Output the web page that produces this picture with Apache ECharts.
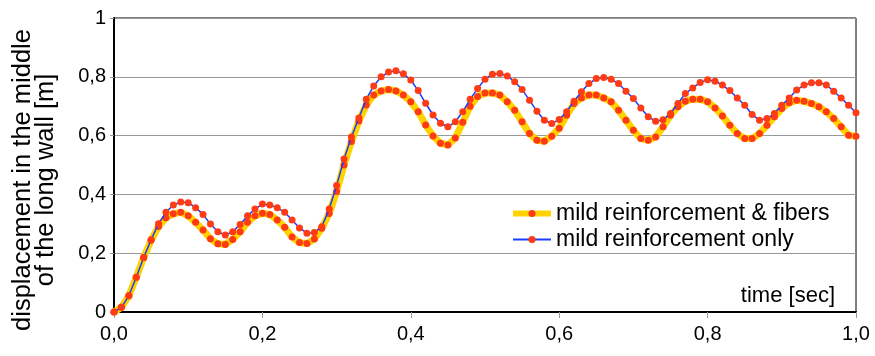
<!DOCTYPE html>
<html>
<head>
<meta charset="utf-8">
<script src="https://cdn.jsdelivr.net/npm/echarts@6/dist/echarts.min.js"></script>
<style>
  html, body { margin: 0; padding: 0; background: #fff; }
  #chart { width: 875px; height: 356px; }
</style>
</head>
<body>
<div id="chart"></div>
<script>
// time samples, every 0.01 s from 0 to 1.0
const timeStep = 0.01;
const times = Array.from({ length: 101 }, (_, i) => +(i * timeStep).toFixed(2));

// displacement [m]
const fibers = [
    0, 0.016, 0.055, 0.118, 0.185, 0.244, 0.291, 0.321, 0.334, 0.339,
    0.327, 0.305, 0.279, 0.249, 0.232, 0.230, 0.247, 0.273, 0.305, 0.327,
    0.336, 0.332, 0.313, 0.288, 0.255, 0.236, 0.233, 0.248, 0.285, 0.335,
    0.410, 0.500, 0.580, 0.650, 0.704, 0.738, 0.752, 0.757, 0.752, 0.738,
    0.715, 0.681, 0.636, 0.599, 0.574, 0.568, 0.592, 0.645, 0.700, 0.733,
    0.745, 0.745, 0.738, 0.715, 0.686, 0.647, 0.607, 0.584, 0.581, 0.598,
    0.625, 0.669, 0.709, 0.728, 0.738, 0.738, 0.728, 0.715, 0.686, 0.652,
    0.618, 0.590, 0.584, 0.595, 0.630, 0.669, 0.698, 0.717, 0.724, 0.724,
    0.715, 0.694, 0.667, 0.635, 0.607, 0.590, 0.590, 0.607, 0.635, 0.664,
    0.692, 0.712, 0.720, 0.717, 0.709, 0.698, 0.681, 0.658, 0.630, 0.601,
    0.598
];
const mildOnly = [
    0, 0.016, 0.055, 0.118, 0.185, 0.246, 0.300, 0.339, 0.364, 0.374,
    0.372, 0.355, 0.332, 0.299, 0.273, 0.262, 0.273, 0.298, 0.327, 0.350,
    0.367, 0.364, 0.355, 0.339, 0.313, 0.286, 0.268, 0.270, 0.290, 0.350,
    0.430, 0.520, 0.595, 0.660, 0.724, 0.769, 0.800, 0.816, 0.821, 0.810,
    0.789, 0.753, 0.710, 0.670, 0.642, 0.630, 0.647, 0.681, 0.724, 0.760,
    0.792, 0.809, 0.811, 0.803, 0.783, 0.757, 0.720, 0.683, 0.652, 0.641,
    0.655, 0.681, 0.717, 0.749, 0.777, 0.794, 0.798, 0.792, 0.777, 0.751,
    0.726, 0.694, 0.664, 0.649, 0.654, 0.675, 0.709, 0.743, 0.762, 0.781,
    0.790, 0.785, 0.772, 0.753, 0.728, 0.703, 0.672, 0.652, 0.658, 0.675,
    0.703, 0.728, 0.755, 0.772, 0.780, 0.780, 0.772, 0.751, 0.728, 0.703,
    0.678
];

const seriesNames = ['mild reinforcement & fibers', 'mild reinforcement only'];
const yTitle = ['displacement in the middle', 'of the long wall [m]'];

const chart = echarts.init(document.getElementById('chart'));

const font = 'Liberation Sans, Arial, sans-serif';
const commaFmt = v => (v === 0 || v === 1) ? String(v) : v.toFixed(1).replace('.', ',');

// rotated y-axis title, two lines
const titleText = (text, x) => ({
    type: 'text',
    x: x, y: 180,
    rotation: Math.PI / 2,
    style: {
        text: text, font: '25.5px ' + font, fill: '#000',
        align: 'center', verticalAlign: 'middle'
    }
});

const option = {
    animation: false,
    grid: {
        left: 114, right: 19, top: 18, bottom: 44,
        containLabel: false,
        outerBoundsMode: 'none',
        show: true, borderColor: '#000', borderWidth: 1
    },
    legend: {
        orient: 'vertical',
        left: 510, top: 202,
        padding: 0,
        itemGap: 3,
        itemWidth: 38,
        itemHeight: 9,
        textStyle: { fontFamily: font, fontSize: 23, color: '#000', lineHeight: 21 },
        data: [
            { name: seriesNames[0], lineStyle: { width: 6 } },
            { name: seriesNames[1], lineStyle: { width: 2 } }
        ]
    },
    graphic: [
        titleText(yTitle[0], 23),
        titleText(yTitle[1], 46),
        {
            type: 'text',
            right: 40, top: 285,
            style: { text: 'time [sec]', font: '22px ' + font, fill: '#000' }
        }
    ],
    xAxis: {
        type: 'value',
        min: 0, max: 1, interval: 0.2,
        axisLine: { lineStyle: { color: '#000', width: 2 } },
        axisTick: { length: 6, lineStyle: { color: '#999' } },
        splitLine: { show: false },
        axisLabel: {
            margin: 12, fontFamily: font, fontSize: 20, color: '#000',
            formatter: v => v.toFixed(1).replace('.', ',')
        }
    },
    yAxis: {
        type: 'value',
        min: 0, max: 1, interval: 0.2,
        axisLine: { show: true, lineStyle: { color: '#000', width: 2 } },
        axisTick: { show: true, length: 4, lineStyle: { color: '#999' } },
        splitLine: { lineStyle: { color: '#999', width: 1 } },
        axisLabel: {
            margin: 8, fontFamily: font, fontSize: 20, color: '#000',
            formatter: commaFmt
        }
    },
    series: [
        {
            name: seriesNames[0],
            type: 'line',
            data: times.map((t, i) => [t, fibers[i]]),
            showAllSymbol: true,
            symbol: 'circle',
            symbolSize: 7,
            itemStyle: { color: '#ff3b14' },
            lineStyle: { color: '#ffd200', width: 7 },
            z: 2
        },
        {
            name: seriesNames[1],
            type: 'line',
            data: times.map((t, i) => [t, mildOnly[i]]),
            showAllSymbol: true,
            symbol: 'circle',
            symbolSize: 7,
            itemStyle: { color: '#ff3b14' },
            lineStyle: { color: '#1a3cff', width: 1.5 },
            z: 3
        }
    ]
};

chart.setOption(option);
</script>
</body>
</html>
